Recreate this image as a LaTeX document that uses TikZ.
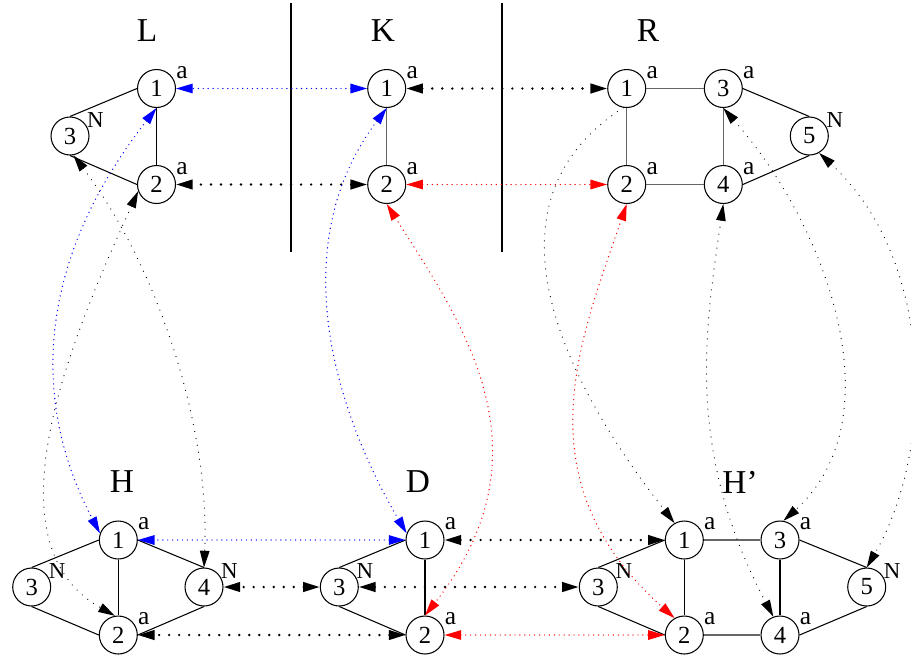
\documentclass[tikz,border=0pt]{standalone}
\usepackage{fontspec}
\setmainfont{Liberation Serif}
\usetikzlibrary{arrows.meta}
\newcommand{\vtxfont}{\fontsize{14}{16}\selectfont}
\newcommand{\tagfnt}{\fontsize{14.5}{16}\selectfont}
\newcommand{\nfnt}{\fontsize{13}{15}\selectfont}
\newcommand{\hdfont}{\fontsize{19}{22}\selectfont}
\definecolor{mapblue}{HTML}{0000FF}
\definecolor{mapred}{HTML}{FF0000}

\begin{document}
\begin{tikzpicture}[
  x=0.02cm,
  y=-0.02cm,
  label distance=0.21cm,
  >={Triangle[length=9.5pt, width=5.4pt]},
  every node/.style={font=\vtxfont},
  vertex/.style={circle, draw, line width=0.6pt, minimum size=0.76cm, inner sep=0pt},
  atag/.style={anchor=center, inner sep=0pt, font=\tagfnt},
  ntag/.style={anchor=center, inner sep=0pt, font=\nfnt},
  title/.style={font=\hdfont, inner sep=0pt},
  edge/.style={line width=0.6pt},
  shared/.style={line width=0.6pt, black!60},
  wall/.style={line width=1.2pt},
  kmap/.style={line width=1.5pt, line cap=round, dash pattern=on 0pt off 5.7pt, <->},
  kcurve/.style={line width=0.7pt, line cap=round, dash pattern=on 0pt off 4pt, <->},
  bmap/.style={mapblue, line width=0.8pt, line cap=round, dash pattern=on 0pt off 2.8pt, <->},
  rmap/.style={mapred, line width=0.8pt, line cap=round, dash pattern=on 0pt off 2.8pt, <->}
]
  \useasboundingbox (0,0) rectangle (911,657);

  % ---- walls between L, K and R ----
  \draw[wall] (291,3) -- (291,252);
  \draw[wall] (502,3) -- (502,252);

  % ---- titles ----
  \node[title] (Lt)  at (147,31)  {L};
  \node[title] (Kt)  at (383,31)  {K};
  \node[title] (Rt)  at (648,31)  {R};
  \node[title] (Ht)  at (122,482) {H};
  \node[title] (Dt)  at (418,482) {D};
  \node[title] (Hpt) at (740,482) {H'};

  % ---- graph L ----
  \node[vertex, label={[atag]32:a}] (L1) at (156.5,88.5)  {1};
  \node[vertex, label={[atag]32:a}] (L2) at (156.5,184.5) {2};
  \node[vertex, label={[ntag]32:N}] (L3) at (70,136)      {3};
  \draw[edge] (L1.west) -- (L3.north);
  \draw[edge] (L1) -- (L2);
  \draw[edge] (L3.south) -- (L2.west);

  % ---- graph K ----
  \node[vertex, label={[atag]32:a}] (K1) at (386.7,88.5)  {1};
  \node[vertex, label={[atag]32:a}] (K2) at (386.7,184.5) {2};
  \draw[shared] (K1) -- (K2);

  % ---- graph R ----
  \node[vertex, label={[atag]32:a}] (R1) at (626.7,88.5)  {1};
  \node[vertex, label={[atag]32:a}] (R3) at (723.3,88.5)  {3};
  \node[vertex, label={[ntag]32:N}] (R5) at (809.3,136)   {5};
  \node[vertex, label={[atag]32:a}] (R2) at (626.7,184.5) {2};
  \node[vertex, label={[atag]32:a}] (R4) at (723.3,184.5) {4};
  \draw[shared] (R1) -- (R3);
  \draw[shared] (R1) -- (R2);
  \draw[shared] (R3) -- (R4);
  \draw[shared] (R2) -- (R4);
  \draw[edge] (R3.east) -- (R5.north);
  \draw[edge] (R4.east) -- (R5.south);

  % ---- graph H ----
  \node[vertex, label={[atag]32:a}] (H1) at (118.3,540) {1};
  \node[vertex, label={[ntag]32:N}] (H3) at (31.7,587)  {3};
  \node[vertex, label={[ntag]32:N}] (H4) at (204,587)   {4};
  \node[vertex, label={[atag]32:a}] (H2) at (118.3,635) {2};
  \draw[edge] (H1.west) -- (H3.north);
  \draw[edge] (H1) -- (H2);
  \draw[edge] (H1.east) -- (H4.north);
  \draw[edge] (H3.south) -- (H2.west);
  \draw[edge] (H4.south) -- (H2.east);

  % ---- graph D ----
  \node[vertex, label={[atag]32:a}] (D1) at (425,540)   {1};
  \node[vertex, label={[ntag]32:N}] (D3) at (339.3,587) {3};
  \node[vertex, label={[atag]32:a}] (D2) at (425,635)   {2};
  \draw[edge] (D1.west) -- (D3.north);
  \draw[edge] (D1) -- (D2);
  \draw[edge] (D3.south) -- (D2.west);

  % ---- graph H' ----
  \node[vertex, label={[atag]32:a}] (Hp1) at (684.3,540) {1};
  \node[vertex, label={[atag]32:a}] (Hp3) at (780,540)   {3};
  \node[vertex, label={[ntag]32:N}] (HpN) at (598.3,587) {3};
  \node[vertex, label={[ntag]32:N}] (Hp5) at (866.7,587) {5};
  \node[vertex, label={[atag]32:a}] (Hp2) at (684.3,635) {2};
  \node[vertex, label={[atag]32:a}] (Hp4) at (780,635)   {4};
  \draw[edge] (HpN.north) -- (Hp1.west);
  \draw[edge] (HpN.south) -- (Hp2.west);
  \draw[shared] (Hp1) -- (Hp3);
  \draw[shared] (Hp2) -- (Hp4);
  \draw[edge] (Hp1) -- (Hp2);
  \draw[edge] (Hp3) -- (Hp4);
  \draw[edge] (Hp3.east) -- (Hp5.north);
  \draw[edge] (Hp4.east) -- (Hp5.south);

  % ---- top row morphisms ----
  \draw[bmap] (K1) -- (L1);
  \draw[kmap] (K2) -- (L2);
  \draw[kmap] (K1) -- (R1);
  \draw[rmap] (K2) -- (R2);

  % ---- bottom row morphisms ----
  \draw[bmap] (D1) -- (H1);
  \draw[kmap] (D3) -- (H4);
  \draw[kmap] (D2) -- (H2);
  \draw[kmap] (D1) -- (Hp1);
  \draw[kmap] (D3) -- (HpN);
  \draw[rmap] (D2) -- (Hp2);

  % ---- matches L -> H ----
  \draw[bmap]   (L1.south) .. controls (30,270) and (35,410) .. (H1.160);
  \draw[kcurve] (L2.200) .. controls (80,320) and (-20,540) .. (H2.100);
  \draw[kcurve] (L3.280) .. controls (160,270) and (210,430) .. (H4.north);

  % ---- K -> D ----
  \draw[bmap] (K1.south) .. controls (280,250) and (340,420) .. (D1.160);
  \draw[rmap] (K2.south) .. controls (460,320) and (555,450) .. (D2.north);

  % ---- R -> H' ----
  \draw[kcurve, ->] (R1.260) .. controls (480,200) and (555,370) .. (Hp1.120);
  \draw[rmap]   (R2.south) .. controls (580,340) and (520,480) .. (Hp2.120);
  \draw[kcurve] (R4.south) .. controls (705,330) and (685,450) .. (Hp4.110);
  \draw[kcurve] (R3.south) .. controls (830,230) and (895,420) .. (Hp3.80);
  \draw[kcurve] (R5.300) .. controls (935,260) and (935,450) .. (Hp5.north);
\end{tikzpicture}
\end{document}
